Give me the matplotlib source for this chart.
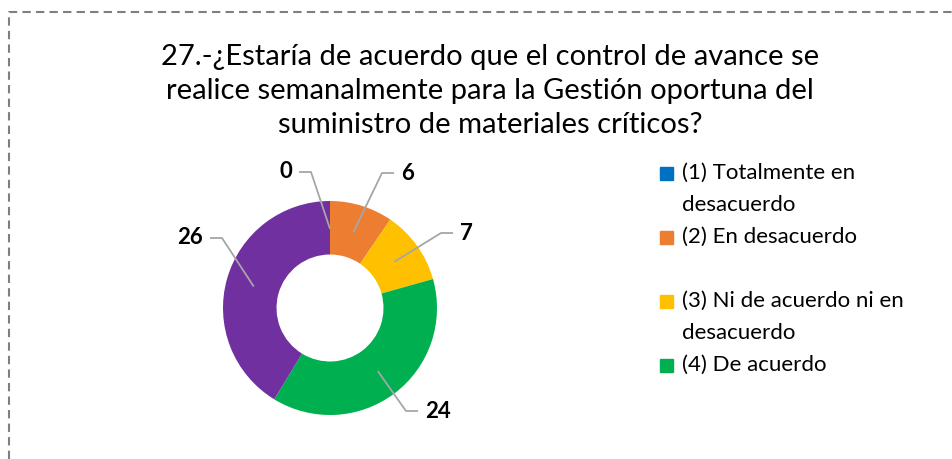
import matplotlib.pyplot as plt
import numpy as np
from matplotlib.patches import Rectangle

plt.rcParams['font.family'] = ['Lato', 'DejaVu Sans']

# Data
title = ('27.-¿Estaría de acuerdo que el control de avance se\n'
         'realice semanalmente para la Gestión oportuna del\n'
         'suministro de materiales críticos?')
categories = ['(1) Totalmente en\ndesacuerdo', '(2) En desacuerdo',
              '(3) Ni de acuerdo ni en\ndesacuerdo', '(4) De acuerdo',
              '(5) Totalmente de acuerdo']
values = [0, 6, 7, 24, 26]
colors = ['#0070C0', '#ED7D31', '#FFC000', '#00B050', '#7030A0']

# label placement (pixels relative to centre, text anchor side)
label_pos = [(-38, 136, 'right'), (71, 135, 'left'), (130, 75, 'left'),
             (95, -103, 'left'), (-127, 70, 'right')]

W, H = 953, 459
fig = plt.figure(figsize=(W / 100, H / 100), dpi=100)

# donut axes: centre at (330, 308) px, outer radius 107 px
cx, cy, R = 330, 308, 107
L = 170
ax = fig.add_axes([(cx - L) / W, (H - cy - L) / H, 2 * L / W, 2 * L / H])

ax.pie(values, colors=colors, startangle=90, counterclock=False,
       radius=1.0, wedgeprops=dict(width=0.5, edgecolor='none'))
ax.set_xlim(-L / R, L / R)
ax.set_ylim(-L / R, L / R)
ax.set_aspect('equal')
ax.axis('off')

total = sum(values)
cum = np.cumsum([0] + values)
for i, v in enumerate(values):
    mid = np.deg2rad((cum[i] + v / 2) / total * 360)
    px, py = 0.74 * np.sin(mid), 0.74 * np.cos(mid)
    lx, ly, side = label_pos[i]
    lx, ly = lx / R, ly / R
    sgn = -1 if side == 'left' else 1
    e1 = lx + sgn * 7 / R
    e2 = lx + sgn * 19 / R
    ax.plot([e1, e2, px], [ly, ly, py], color='#A6A6A6', lw=1.3,
            clip_on=False, solid_capstyle='butt')
    ax.text(lx, ly, str(v), ha=side, va='center', fontsize=16,
            fontweight='bold', color='black')

# title
fig.text(490 / W, 1 - 91 / H, title, ha='center', va='center',
         fontsize=21, linespacing=1.38, color='black')

# legend (only the first four entries fit)
for i, lab in enumerate(categories[:4]):
    ty = 173 + i * 64
    fig.patches.append(Rectangle((660 / W, 1 - (ty + 7) / H), 13 / W, 13 / H,
                                 transform=fig.transFigure, color=colors[i]))
    fig.text(682 / W, 1 - (ty - 10) / H, lab, ha='left', va='top',
             fontsize=16, linespacing=1.75, color='black')

# dashed border
fig.add_artist(plt.Line2D([9 / W, 9 / W, 1.0], [0.0, 1 - 12 / H, 1 - 12 / H],
                          transform=fig.transFigure, color='#7F7F7F',
                          lw=1.5, ls=(0, (4, 2.5))))

fig.savefig('out.png', dpi=100)
